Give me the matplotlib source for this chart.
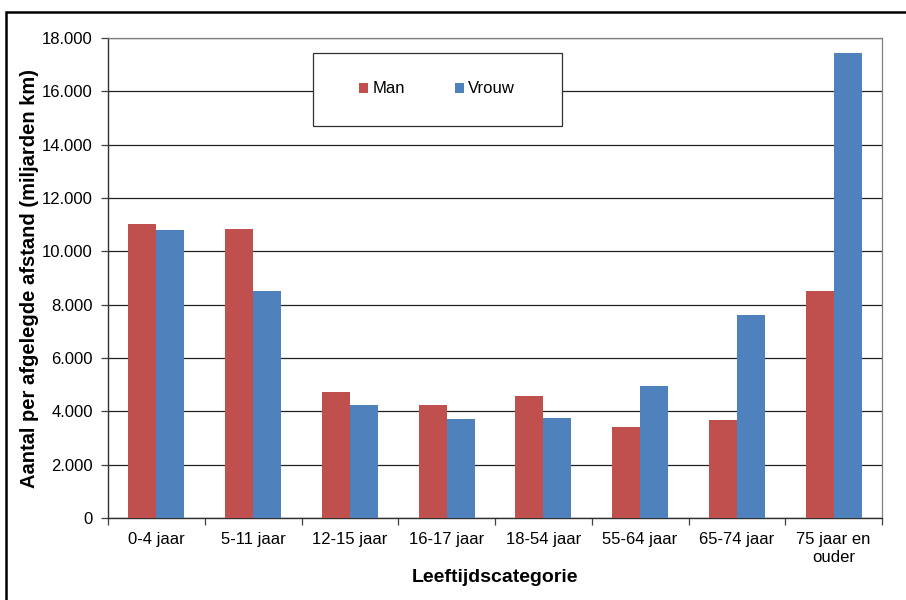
import numpy as np
import matplotlib
matplotlib.use("Agg")
import matplotlib.pyplot as plt
from matplotlib.patches import Rectangle
from matplotlib.ticker import FuncFormatter, MultipleLocator

plt.rcParams['font.family'] = ['Liberation Sans', 'DejaVu Sans']

categorieen = ['0-4 jaar', '5-11 jaar', '12-15 jaar', '16-17 jaar', '18-54 jaar',
               '55-64 jaar', '65-74 jaar', '75 jaar en\nouder']
man = [11020, 10850, 4740, 4240, 4590, 3400, 3680, 8510]
vrouw = [10800, 8500, 4240, 3720, 3740, 4940, 7600, 17440]

rood = '#C0504D'
blauw = '#4F81BD'

fig = plt.figure(figsize=(9.06, 6.0), dpi=100)
ax = fig.add_axes([108/906, 82/600, 774/906, 480/600])

x = np.arange(len(categorieen))
w = 0.29
ax.bar(x - w/2, man, w, color=rood, label='Man', zorder=3)
ax.bar(x + w/2, vrouw, w, color=blauw, label='Vrouw', zorder=3)

ax.set_xlim(-0.5, len(categorieen) - 0.5)
ax.set_ylim(0, 18000)
ax.yaxis.set_major_locator(MultipleLocator(2000))
ax.yaxis.set_major_formatter(FuncFormatter(lambda v, p: f"{int(v):,}".replace(",", ".")))
ax.grid(axis='y', color='#202020', linewidth=0.9, zorder=0)

ax.set_xticks(x)
ax.set_xticklabels(categorieen, fontsize=12, linespacing=1.3)
ax.set_xticks(np.arange(-0.5, len(categorieen)), minor=True)
ax.tick_params(axis='x', which='major', length=0, pad=10)
ax.tick_params(axis='x', which='minor', length=5, width=0.9, color='#404040')
ax.tick_params(axis='y', length=5, width=0.9, labelsize=12, pad=6, color='#404040')

for s in ['left', 'bottom']:
    ax.spines[s].set_color('#303030')
    ax.spines[s].set_linewidth(1.0)
for s in ['right', 'top']:
    ax.spines[s].set_color('#808080')
    ax.spines[s].set_linewidth(0.9)

ax.set_xlabel('Leeftijdscategorie', fontsize=14, fontweight='bold')
ax.xaxis.set_label_coords(0.5, (518 - 578) / 480)
ax.xaxis.label.set_va('center')
ax.set_ylabel('Aantal per afgelegde afstand (miljarden km)', fontsize=14.5,
              fontweight='bold')
ax.yaxis.set_label_coords((30 - 108) / 774, 0.5)
ax.yaxis.label.set_va('center')

# legend with its own rectangular frame
fig.patches.append(Rectangle((313/906, 1 - 126/600), 249/906, 73/600,
                             transform=fig.transFigure, facecolor='white',
                             edgecolor='#303030', linewidth=0.9, zorder=5))
leg = fig.legend(loc='center', bbox_to_anchor=(437/906, 1 - 89/600), ncol=2,
                 frameon=False, fontsize=12, handlelength=0.56, handleheight=0.56,
                 handletextpad=0.25, columnspacing=3.0)
leg.set_zorder(6)

# outer border of the chart
fig.patches.append(Rectangle((6/906, -0.05), 1.1, 1.05 - 12/600,
                             transform=fig.transFigure, fill=False,
                             edgecolor='black', linewidth=1.8, clip_on=False))

fig.savefig('out.png', dpi=100)
